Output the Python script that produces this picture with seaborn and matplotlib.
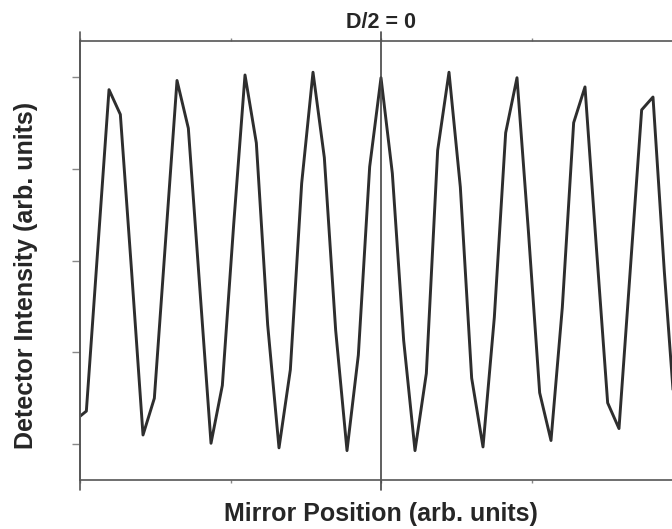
import numpy as np
import pandas as pd
import matplotlib.pyplot as plt
import seaborn as sns

# mirror position in sample steps (0 = zero path difference), one sample lost at 22
position = [-27, -26, -25, -24, -23, -22, -21, -20, -19, -18,
            -17, -16, -15, -14, -13, -12, -11, -10, -9, -8,
            -7, -6, -5, -4, -3, -2, -1, 0, 1, 2,
            3, 4, 5, 6, 7, 8, 9, 10, 11, 12,
            13, 14, 15, 16, 17, 18, 19, 20, 21, 23,
            24, 25, 26]
intensity = [0.26, 0.36, 2.11, 3.86, 3.59, 1.87, 0.10, 0.50, 2.23, 3.96,
             3.44, 1.72, 0.01, 0.64, 2.39, 4.02, 3.28, 1.30, -0.04, 0.81,
             2.84, 4.05, 3.12, 1.24, -0.07, 0.97, 3.02, 3.99, 2.95, 1.13,
             -0.07, 0.77, 3.20, 4.05, 2.80, 0.72, -0.03, 1.38, 3.39, 3.99,
             2.33, 0.56, 0.04, 1.49, 3.50, 3.89, 2.15, 0.45, 0.17, 3.64,
             3.78, 1.88, 0.20]

x_ticks = [-26.56, -13.28, 0, 13.28, 26.56]
y_ticks = [0, 1, 2, 3, 4]

df = pd.DataFrame({'pos': position, 'signal': intensity})

sns.set_style("white")
plt.rcParams['font.family'] = ['Liberation Sans', 'DejaVu Sans']

fig = plt.figure(figsize=(6.72, 5.29), dpi=100)
# axes run past the right edge of the picture, like the cropped original
ax = fig.add_axes([80 / 672, 49 / 529, 602 / 672, 439 / 529])

sns.lineplot(data=df, x='pos', y='signal', ax=ax, color='#2e2e2e', linewidth=2.1)

ax.set_xlim(-26.56, 26.56)
ax.set_ylim(-0.39, 4.39)
ax.set_xticks(x_ticks)
ax.set_yticks(y_ticks)
ax.set_xticklabels([])
ax.set_yticklabels([])

for side in ['top', 'bottom', 'left', 'right']:
    ax.spines[side].set_color('#555555')
    ax.spines[side].set_linewidth(1.2)
ax.spines['right'].set_visible(False)

ax.tick_params(axis='x', top=True, bottom=True, direction='out', length=2.5,
               width=1, color='#888888')
ax.tick_params(axis='y', left=True, right=False, direction='out', length=6,
               width=1, color='#888888')

# longer left axis line and the zero-path-difference marker
ax.plot([0, 0], [-0.023, 1.02], transform=ax.transAxes, clip_on=False,
        color='#555555', linewidth=1.2)
ax.axvline(0, ymin=-0.023, ymax=1.02, clip_on=False, color='#444444', linewidth=1.2)

ax.set_title('D/2 = 0', fontsize=15.5, fontweight='bold', pad=9)
ax.set_xlabel('Mirror Position (arb. units)', fontsize=18, fontweight='bold')
ax.set_ylabel('Detector Intensity (arb. units)', fontsize=18, fontweight='bold')
ax.xaxis.label.set_va('center')
ax.yaxis.label.set_va('center')
ax.xaxis.set_label_coords(0.5, -0.078)
ax.yaxis.set_label_coords(-0.09, 0.465)

plt.savefig('out.png', dpi=100)
plt.close()
